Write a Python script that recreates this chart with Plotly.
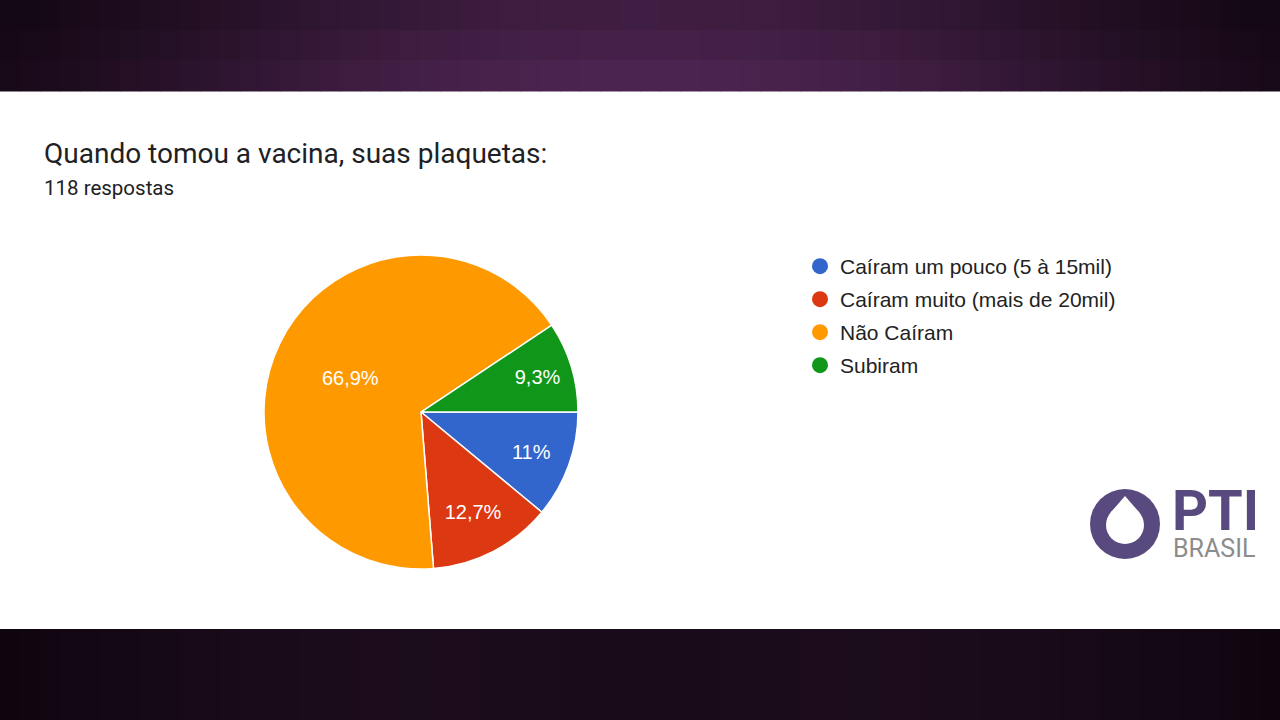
import numpy as np
import plotly.graph_objects as go

# ---------------- data ----------------
title = "Quando tomou a vacina, suas plaquetas:"
subtitle = "118 respostas"
labels = ["Caíram um pouco (5 à 15mil)", "Caíram muito (mais de 20mil)", "Não Caíram", "Subiram"]
counts = [13, 15, 79, 11]
colors = ["#3366cc", "#dc3912", "#ff9900", "#109618"]
logo_main = "PTI"
logo_sub = "BRASIL"

total = sum(counts)


def fmt(v):
    s = f"{v / total * 100:.1f}"
    if s.endswith(".0"):
        s = s[:-2]
    return s.replace(".", ",") + "%"


texts = [fmt(c) for c in counts]

W, H = 1280, 720
fig = go.Figure()

# pie: center (421,412), radius 157 px
cx, cy, r = 421, 412, 157
fig.add_trace(go.Pie(
    labels=labels, values=counts, text=texts, texttemplate="%{text}",
    sort=False, direction="clockwise", rotation=90,
    marker=dict(colors=colors, line=dict(color="white", width=1.5)),
    textposition="inside", insidetextorientation="horizontal",
    textfont=dict(family="Liberation Sans, Arial", size=20, color="white"),
    showlegend=False, hoverinfo="label+percent",
    domain=dict(x=[(cx - r) / W, (cx + r) / W], y=[(H - cy - r) / H, (H - cy + r) / H]),
))

# legend entries with circle symbols
for lab, col in zip(labels, colors):
    fig.add_trace(go.Scatter(x=[None], y=[None], mode="markers", name=lab, legendgroup=lab,
                             marker=dict(color=col, size=20, symbol="circle"), hoverinfo="skip"))

shapes = []


def rgb(c):
    return "rgb(%d,%d,%d)" % tuple(int(round(v)) for v in c)


def mix(c1, c2, t):
    return [a + (b - a) * t for a, b in zip(c1, c2)]


# background bands (purple)
ncol = 64
top_edge, top_center = (24, 9, 24), (76, 36, 80)
bot_edge, bot_center = (15, 5, 15), (32, 15, 32)
for i in range(ncol):
    x0, x1 = W * i / ncol, W * (i + 1) / ncol
    xc = (x0 + x1) / 2
    h = np.sin(np.pi * xc / W) ** 1.3
    for (y0, y1, f) in [(0, 30, 0.82), (30, 60, 0.91), (60, 91, 1.0)]:
        c = [v * f for v in mix(top_edge, top_center, h)]
        shapes.append(dict(type="rect", xref="x", yref="y", x0=x0, x1=x1 + 0.5, y0=y0, y1=y1 + 0.5,
                           fillcolor=rgb(c), line=dict(width=0), layer="below"))
    hb = np.sin(np.pi * xc / W) * (1 - 0.4 * np.exp(-((xc - 640) / 200) ** 2))
    c = mix(bot_edge, bot_center, hb)
    shapes.append(dict(type="rect", xref="x", yref="y", x0=x0, x1=x1 + 0.5, y0=629, y1=720,
                       fillcolor=rgb(c), line=dict(width=0), layer="below"))

# logo
logo_col = "#58497f"
shapes.append(dict(type="circle", xref="x", yref="y", x0=1090, y0=489, x1=1160, y1=559,
                   fillcolor=logo_col, line=dict(width=0)))
shapes.append(dict(type="circle", xref="x", yref="y", x0=1106, y0=506, x1=1144, y1=544,
                   fillcolor="white", line=dict(width=0)))
shapes.append(dict(type="path", xref="x", yref="y", path="M1125,496 L1139.6,512.8 L1110.4,512.8 Z",
                   fillcolor="white", line=dict(width=0)))

annotations = [
    dict(text=title, x=42 / W, y=1 - 153 / H, xref="paper", yref="paper", xanchor="left", yanchor="middle",
         showarrow=False, font=dict(family="Roboto", size=28, color="#202124")),
    dict(text=subtitle, x=42 / W, y=1 - 188 / H, xref="paper", yref="paper", xanchor="left", yanchor="middle",
         showarrow=False, font=dict(family="Roboto", size=20.5, color="#202124")),
    dict(text=f"<b>{logo_main}</b>", x=1170 / W, y=1 - 511 / H, xref="paper", yref="paper", xanchor="left",
         yanchor="middle", showarrow=False, font=dict(family="Roboto", size=56, color=logo_col)),
    dict(text=logo_sub, x=1171 / W, y=1 - 548 / H, xref="paper", yref="paper", xanchor="left",
         yanchor="middle", showarrow=False, font=dict(family="Roboto", size=25, color="#8c8c8c")),
]

fig.update_layout(
    width=W, height=H, margin=dict(l=0, r=0, t=0, b=0),
    paper_bgcolor="white", plot_bgcolor="rgba(0,0,0,0)",
    xaxis=dict(visible=False, range=[0, W], domain=[0, 1], fixedrange=True),
    yaxis=dict(visible=False, range=[H, 0], domain=[0, 1], fixedrange=True),
    shapes=shapes, annotations=annotations,
    showlegend=True,
    legend=dict(x=800 / W, y=1 - 246 / H, xanchor="left", yanchor="top", traceorder="grouped",
                tracegroupgap=2.7, bgcolor="rgba(0,0,0,0)", borderwidth=0,
                font=dict(family="Liberation Sans, Arial", size=21, color="#222222")),
)

fig.write_html("out.html", config={"displayModeBar": False},
               post_script="document.body.style.margin='0';")
